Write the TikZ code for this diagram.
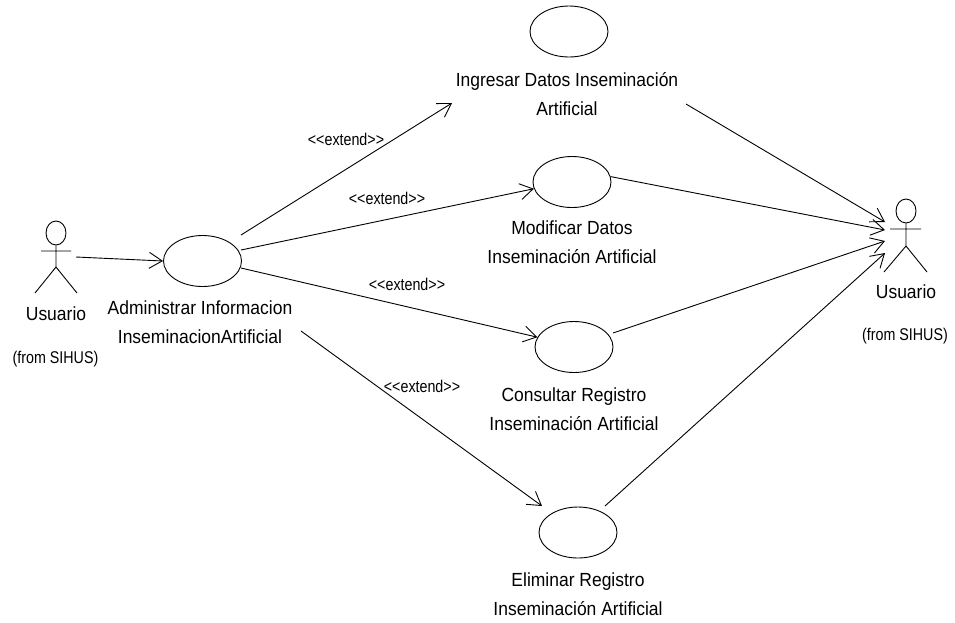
\documentclass[tikz,border=0pt]{standalone}
\usepackage{fontspec}
\setmainfont{Liberation Sans}
\newfontfamily\narrowfont[FakeStretch=0.92]{Liberation Sans}
\newfontfamily\tightfont[FakeStretch=0.84]{Liberation Sans}
\usetikzlibrary{shapes.geometric,arrows.meta}
\tikzset{
  usecase/.style={draw,ellipse,minimum width=78pt,minimum height=51pt,inner sep=0pt,line width=0.9pt},
  uclabel/.style={align=center,inner sep=0pt,font=\narrowfont\fontsize{19}{29}\selectfont},
  fromlabel/.style={inner sep=0pt,font=\tightfont\fontsize{17}{18}\selectfont},
  extlabel/.style={inner sep=0pt,font=\tightfont\fontsize{17}{17}\selectfont},
  conn/.style={line width=0.9pt,-{Straight Barb[length=13pt,width=16pt,line width=0.9pt]}},
  actorline/.style={line width=0.9pt},
  actorhead/.style={draw,ellipse,minimum width=20pt,minimum height=24pt,inner sep=0pt,line width=0.9pt}
}
\begin{document}
\begin{tikzpicture}[x=1pt,y=-1pt]
\useasboundingbox[fill=white] (0,0) rectangle (955,622);
% use cases
\node[usecase] (admin) at (202.5,261) {};
\node[usecase] (ing) at (569,31.5) {};
\node[usecase] (mod) at (572,182) {};
\node[usecase] (con) at (574,347) {};
\node[usecase] (eli) at (578,532.5) {};
% use case labels
\node[uclabel] (ladmin) at (200,322) {Administrar Informacion\\InseminacionArtificial};
\node[uclabel] (ling) at (567,94) {Ingresar Datos Inseminación\\Artificial};
\node[uclabel] (lmod) at (572,242) {Modificar Datos\\Inseminación Artificial};
\node[uclabel] (lcon) at (574,409) {Consultar Registro\\Inseminación Artificial};
\node[uclabel] (leli) at (578,594) {Eliminar Registro\\Inseminación Artificial};
% left actor
\node[actorhead] (heada) at (56,233) {};
\coordinate (armal) at (41,251);
\coordinate (armar) at (71,251);
\coordinate (hipa) at (56,267);
\coordinate (legal) at (35,293);
\coordinate (legar) at (77,293);
\draw[actorline] (heada) -- (hipa) (armal) -- (armar) (legal) -- (hipa) -- (legar);
\node[uclabel] (ua) at (56,314) {Usuario};
\node[fromlabel] (fa) at (55.5,359) {(from SIHUS)};
% right actor
\node[actorhead] (headb) at (906,211) {};
\coordinate (armbl) at (890,229);
\coordinate (armbr) at (921,229);
\coordinate (hipb) at (906,246);
\coordinate (legbl) at (884,272);
\coordinate (legbr) at (927,272);
\draw[actorline] (headb) -- (hipb) (armbl) -- (armbr) (legbl) -- (hipb) -- (legbr);
\node[uclabel] (ub) at (906,292) {Usuario};
\node[fromlabel] (fb) at (905,336) {(from SIHUS)};
% free connector ends
\coordinate (sa) at (76,257);
\coordinate (s1) at (241,235);
\coordinate (s2) at (241,250);
\coordinate (s3) at (241,268);
\coordinate (s4) at (301,331);
\coordinate (t1) at (452,103);
\coordinate (t4) at (542,506);
\coordinate (r1) at (686,104);
\coordinate (r3) at (613,333);
\coordinate (e1) at (885,222);
\coordinate (e2) at (885,230);
\coordinate (e3) at (885,241);
\coordinate (e4) at (885,253);
\coordinate (r4) at (605,506);
% connectors
\draw[conn] (sa) -- (admin.west);
\draw[conn] (s1) -- (t1);
\draw[conn] (s2) -- (mod.190);
\draw[conn] (s3) -- (con.165);
\draw[conn] (s4) -- (t4);
\node[extlabel] (x1) at (346,139) {<<extend>>};
\node[extlabel] (x2) at (387,198) {<<extend>>};
\node[extlabel] (x3) at (407,284) {<<extend>>};
\node[extlabel] (x4) at (422,386) {<<extend>>};
\draw[conn] (r1) -- (e1);
\draw[conn] (mod.8) -- (e2);
\draw[conn] (r3) -- (e3);
\draw[conn] (r4) -- (e4);
\end{tikzpicture}
\end{document}
